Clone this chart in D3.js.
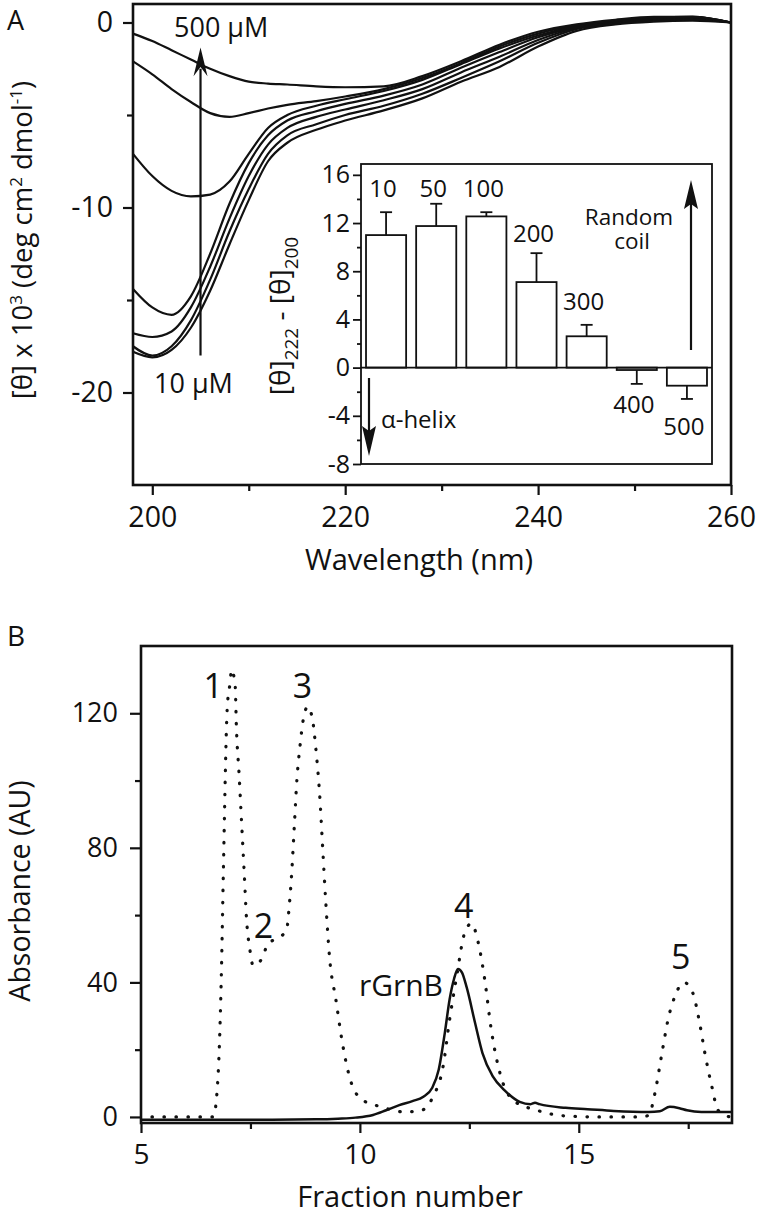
<!DOCTYPE html>
<html><head><meta charset="utf-8">
<script src="https://cdn.jsdelivr.net/npm/d3@7"></script>
<style>
body{margin:0;background:#fff;}
svg{display:block;}
text{font-family:"Open Sans",sans-serif;fill:#111;}
</style>
</head><body>
<svg id="c" width="764" height="1215"></svg>
<script>
// ---------- Panel A: CD spectra ----------
const wavelengths = [198,200,202,204,206,208,210,212,214,217,220,224,228,232,236,240,244,248,252,256,260];
const cd10  = [-17.8,-18.1,-17.7,-16.5,-14.5,-12.0,-9.6,-7.5,-6.5,-5.8,-5.3,-4.75,-4.1,-3.2,-2.4,-1.3,-0.45,-0.1,0.05,0.1,0];
const cd50  = [-17.5,-18.0,-17.5,-16.1,-13.9,-11.3,-9.0,-7.1,-6.1,-5.5,-5.0,-4.5,-3.85,-3.0,-2.1,-1.1,-0.35,-0.05,0.1,0.15,0];
const cd100 = [-16.8,-17.0,-16.7,-15.4,-13.2,-10.6,-8.3,-6.6,-5.7,-5.1,-4.7,-4.2,-3.6,-2.7,-1.85,-0.95,-0.3,0,0.15,0.2,0];
const cd200 = [-14.4,-15.4,-15.8,-14.8,-12.5,-9.8,-7.6,-6.1,-5.3,-4.8,-4.4,-3.95,-3.35,-2.45,-1.6,-0.8,-0.25,0.05,0.2,0.25,0];
const cd300 = [-7.1,-8.3,-9.1,-9.4,-9.3,-8.6,-7.1,-5.7,-5.0,-4.5,-4.15,-3.7,-3.1,-2.25,-1.4,-0.7,-0.2,0.1,0.25,0.3,0];
const cd400 = [-2.1,-2.8,-3.6,-4.3,-4.9,-5.1,-4.9,-4.65,-4.45,-4.25,-4.0,-3.6,-3.0,-2.2,-1.3,-0.6,-0.15,0.1,0.25,0.3,0];
const cd500 = [-0.6,-1.0,-1.5,-2.0,-2.5,-2.9,-3.2,-3.3,-3.35,-3.45,-3.5,-3.45,-2.9,-2.1,-1.2,-0.5,-0.1,0.15,0.3,0.3,0];
const cdSeries = [cd10, cd50, cd100, cd200, cd300, cd400, cd500];
const cdXTicks = [200,220,240,260];
const cdXMinor = [210,230,250];
const cdYTicks = [-20,-10,0];
const cdYMinor = [-15,-5];

// ---------- Inset: [θ]222 - [θ]200 ----------
const insetConc = ["10","50","100","200","300","400","500"];
const insetValues = [11.0, 11.75, 12.55, 7.1, 2.6, -0.2, -1.5];
const insetErr = [1.9, 1.85, 0.35, 2.4, 0.95, 1.15, 1.1];
const insetYTicks = [-8,-4,0,4,8,12,16];
const insetYMinor = [-6,-2,2,6,10,14];

// ---------- Panel B: elution profiles ----------
const stdFraction = [5.25,5.8,6.3,6.65,6.74,6.8,6.84,6.88,6.97,7.03,7.07,7.1,7.15,7.18,7.24,7.3,7.36,7.41,7.49,7.56,7.76,7.9,8.1,8.33,8.36,8.44,8.5,8.56,8.63,8.7,8.81,8.92,8.99,9.09,9.15,9.22,9.31,9.45,9.6,9.82,10.07,10.4,10.7,11.0,11.37,11.67,11.9,12.05,12.2,12.4,12.55,12.7,12.85,13.0,13.2,13.5,14.04,14.7,15.5,16.4,16.6,16.73,16.9,17.04,17.2,17.4,17.6,17.76,17.88,18.04,18.18,18.45];
const stdAbs      = [0,0,0,0,8,25,45,72,121.6,128.6,133,132,128.6,115.6,102,87,72,59,49.5,45,47,51.5,53,55.5,59,72,86,100,110,117.6,122,118,110,94,80,64,47,35,22,9.5,5,3.3,2.2,1.5,1.8,6,15,29,41,55,57.5,52,41,26,13,5,2,0.3,0,0,0.5,6.5,19,29,36,40,37,28,19,9,2,0];
const grnFraction = [5,6,7,8,9,9.5,9.9,10.3,10.6,10.9,11.2,11.45,11.65,11.8,11.94,12.05,12.15,12.24,12.33,12.44,12.63,12.8,13.04,13.3,13.65,13.9,14.0,14.1,14.7,15.2,15.8,16.6,16.85,17.08,17.3,17.47,17.8,18.5];
const grnAbs      = [-0.8,-0.8,-0.8,-0.8,-0.7,-0.5,-0.2,0.6,2,3.5,4.7,6,8.6,14,25,35,41,44,43,38.5,28,19,12,8,4.5,3.8,4.2,3.8,2.7,2.3,1.8,1.5,1.7,3,2.6,2,1.5,1.5];
const peakLabels = ["1","2","3","4","5"];
const peakFractions = [6.65, 7.8, 8.69, 12.37, 17.33];
const peakHeights = [124.4, 53.3, 124.4, 59, 44.1];
const elXTicks = [5,10,15];
const elXMinor = [7.5,12.5,17.5];
const elYTicks = [0,40,80,120];
const elYMinor = [20,60,100];

const svg = d3.select("#c");
const fmt = d => String(d);

function styleAxis(g, fs) {
  g.select(".domain").remove();
  g.selectAll(".tick line").attr("stroke","#111").attr("stroke-width",2.2);
  g.selectAll(".tick text").attr("font-size",fs).attr("fill","#111")
    .style("font-family","'Open Sans',sans-serif");
}

// ================= Panel A =================
const xA = d3.scaleLinear().domain([198,260]).range([133,731]);
const yA = d3.scaleLinear().domain([-25,1]).range([485,4]);

svg.append("text").attr("x",7).attr("y",30).attr("font-size",27).text("A");

const lineA = d3.line().x((d,i)=>xA(wavelengths[i])).y(d=>yA(d)).curve(d3.curveMonotoneX);
svg.append("g").selectAll("path").data(cdSeries).join("path")
  .attr("d", d=>lineA(d)).attr("fill","none").attr("stroke","#111").attr("stroke-width",2.2);

// Axes A
svg.append("g").attr("transform","translate(0,485)")
  .call(d3.axisBottom(xA).tickValues(cdXTicks).tickSize(10).tickPadding(12).tickFormat(fmt))
  .call(g=>styleAxis(g,28.5));
svg.append("g").attr("transform","translate(0,485)")
  .call(d3.axisBottom(xA).tickValues(cdXMinor).tickSize(6).tickFormat(""))
  .call(g=>styleAxis(g,28));
svg.append("g").attr("transform","translate(133,0)")
  .call(d3.axisLeft(yA).tickValues(cdYTicks).tickSize(10).tickPadding(10).tickFormat(fmt))
  .call(g=>styleAxis(g,28.5));
svg.append("g").attr("transform","translate(133,0)")
  .call(d3.axisLeft(yA).tickValues(cdYMinor).tickSize(6).tickFormat(""))
  .call(g=>styleAxis(g,28));
svg.append("rect").attr("x",133).attr("y",4).attr("width",598).attr("height",481)
  .attr("fill","none").attr("stroke","#111").attr("stroke-width",2.6);

// Axis titles A
svg.append("text").attr("x",419).attr("y",570).attr("font-size",29).attr("text-anchor","middle").text("Wavelength (nm)");
const yLabA = svg.append("text").attr("transform","translate(32,240) rotate(-90)")
  .attr("font-size",27.5).attr("text-anchor","middle");
yLabA.append("tspan").text("[θ] x 10");
yLabA.append("tspan").attr("dy",-10).attr("font-size",17).text("3");
yLabA.append("tspan").attr("dy",10).text(" (deg cm");
yLabA.append("tspan").attr("dy",-10).attr("font-size",17).text("2");
yLabA.append("tspan").attr("dy",10).text(" dmol");
yLabA.append("tspan").attr("dy",-10).attr("font-size",17).text("-1");
yLabA.append("tspan").attr("dy",10).text(")");

// Concentration arrow
const arrX = xA(205);
svg.append("line").attr("x1",arrX).attr("x2",arrX).attr("y1",yA(-18.0)).attr("y2",yA(-2.5))
  .attr("stroke","#111").attr("stroke-width",2.2);
svg.append("path").attr("d",`M${arrX},${yA(-1.35)} L${arrX-7},${yA(-2.9)} L${arrX},${yA(-2.4)} L${arrX+7},${yA(-2.9)} Z`).attr("fill","#111");
svg.append("text").attr("x",174).attr("y",37).attr("font-size",27).text("500 μM");
svg.append("text").attr("x",154).attr("y",393).attr("font-size",27).text("10 μM");

// ================= Inset =================
const xI = d3.scaleBand().domain(insetConc).range([361,712]).paddingInner(0.2).paddingOuter(0.1);
const yI = d3.scaleLinear().domain([-8,16.9]).range([464,164]);

svg.append("rect").attr("x",361).attr("y",164).attr("width",351).attr("height",300)
  .attr("fill","#fff").attr("stroke","#111").attr("stroke-width",1.8);

const bars = svg.append("g");
bars.selectAll("rect").data(insetValues).join("rect")
  .attr("x",(d,i)=>xI(insetConc[i])).attr("width",xI.bandwidth())
  .attr("y",d=>yI(Math.max(0,d))).attr("height",d=>Math.abs(yI(d)-yI(0)))
  .attr("fill","#fff").attr("stroke","#111").attr("stroke-width",1.8);
// error bars (one-sided, away from zero)
insetValues.forEach((v,i)=>{
  const cx = xI(insetConc[i]) + xI.bandwidth()/2;
  const e = v >= 0 ? v + insetErr[i] : v - insetErr[i];
  bars.append("line").attr("x1",cx).attr("x2",cx).attr("y1",yI(v)).attr("y2",yI(e))
    .attr("stroke","#111").attr("stroke-width",1.8);
  bars.append("line").attr("x1",cx-6).attr("x2",cx+6).attr("y1",yI(e)).attr("y2",yI(e))
    .attr("stroke","#111").attr("stroke-width",1.8);
});
// zero line
svg.append("line").attr("x1",361).attr("x2",712).attr("y1",yI(0)).attr("y2",yI(0))
  .attr("stroke","#111").attr("stroke-width",1.8);

svg.append("g").attr("transform","translate(361,0)")
  .call(d3.axisLeft(yI).tickValues(insetYTicks).tickSize(8).tickPadding(3).tickFormat(fmt))
  .call(g=>styleAxis(g,25)).call(g=>g.selectAll(".tick line").attr("stroke-width",1.8));
svg.append("g").attr("transform","translate(361,0)")
  .call(d3.axisLeft(yI).tickValues(insetYMinor).tickSize(4).tickFormat(""))
  .call(g=>styleAxis(g,25)).call(g=>g.selectAll(".tick line").attr("stroke-width",1.8));

// bar labels
const labelY = [197,197,197,242,310,413,435];
svg.append("g").selectAll("text").data(insetConc).join("text")
  .attr("x",(d,i)=>xI(d)+xI.bandwidth()/2-3).attr("y",(d,i)=>labelY[i])
  .attr("font-size",24).attr("text-anchor","middle").text(d=>d);

// inset y label
const yLabI = svg.append("text").attr("transform","translate(290,316) rotate(-90)")
  .attr("font-size",28).attr("text-anchor","middle");
yLabI.append("tspan").text("[θ]");
yLabI.append("tspan").attr("dy",8).attr("font-size",19).text("222");
yLabI.append("tspan").attr("dy",-8).text(" - [θ]");
yLabI.append("tspan").attr("dy",8).attr("font-size",19).text("200");

// Random coil arrow
svg.append("line").attr("x1",691).attr("x2",691).attr("y1",350).attr("y2",200)
  .attr("stroke","#111").attr("stroke-width",2.2);
svg.append("path").attr("d","M691,180 L684,209 L691,204 L698,209 Z").attr("fill","#111");
const rc = svg.append("text").attr("font-size",22.5).attr("text-anchor","middle");
rc.append("tspan").attr("x",629).attr("y",225).text("Random");
rc.append("tspan").attr("x",632).attr("y",249).text("coil");
// alpha-helix arrow
svg.append("line").attr("x1",369).attr("x2",369).attr("y1",378).attr("y2",440)
  .attr("stroke","#111").attr("stroke-width",2.2);
svg.append("path").attr("d","M369,456 L362,426 L369,431 L376,426 Z").attr("fill","#111");
svg.append("text").attr("x",381).attr("y",428).attr("font-size",24).text("α-helix");

// ================= Panel B =================
const xB = d3.scaleLinear().domain([5,18.5]).range([141,732]);
const yB = d3.scaleLinear().domain([-1.8,140]).range([1123,646]);

svg.append("text").attr("x",7).attr("y",646).attr("font-size",28).text("B");

const lineB = d3.line().curve(d3.curveMonotoneX);
const stdPts = stdFraction.map((f,i)=>[xB(f), yB(stdAbs[i])]);
const grnPts = grnFraction.map((f,i)=>[xB(f), yB(grnAbs[i])]);
svg.append("path").attr("d",lineB(stdPts)).attr("fill","none").attr("stroke","#111")
  .attr("stroke-width",3.2).attr("stroke-linecap","round").attr("stroke-dasharray","0.5 11.5");
svg.append("path").attr("d",lineB(grnPts)).attr("fill","none").attr("stroke","#111").attr("stroke-width",2.5);

svg.append("g").attr("transform","translate(0,1123)")
  .call(d3.axisBottom(xB).tickValues(elXTicks).tickSize(10).tickPadding(11).tickFormat(fmt))
  .call(g=>styleAxis(g,28));
svg.append("g").attr("transform","translate(0,1123)")
  .call(d3.axisBottom(xB).tickValues(elXMinor).tickSize(6).tickFormat(""))
  .call(g=>styleAxis(g,28));
svg.append("g").attr("transform","translate(141,0)")
  .call(d3.axisLeft(yB).tickValues(elYTicks).tickSize(11).tickPadding(12).tickFormat(fmt))
  .call(g=>styleAxis(g,27));
svg.append("g").attr("transform","translate(141,0)")
  .call(d3.axisLeft(yB).tickValues(elYMinor).tickSize(6).tickFormat(""))
  .call(g=>styleAxis(g,27));
svg.append("rect").attr("x",141).attr("y",646).attr("width",591).attr("height",477)
  .attr("fill","none").attr("stroke","#111").attr("stroke-width",2.6);

svg.append("text").attr("x",410).attr("y",1207).attr("font-size",29).attr("text-anchor","middle").text("Fraction number");
svg.append("text").attr("transform","translate(30,891) rotate(-90)").attr("font-size",28.5)
  .attr("text-anchor","middle").text("Absorbance (AU)");

// peak labels
svg.append("g").selectAll("text").data(peakLabels).join("text")
  .attr("x",(d,i)=>xB(peakFractions[i])).attr("y",(d,i)=>yB(peakHeights[i]))
  .attr("font-size",34).attr("text-anchor","middle").text(d=>d);
svg.append("text").attr("x",443).attr("y",996).attr("font-size",30).attr("text-anchor","end").text("rGrnB");
</script>
</body></html>
